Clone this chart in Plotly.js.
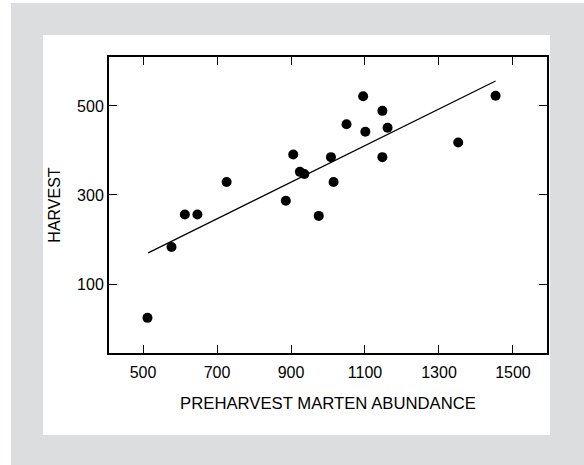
<!DOCTYPE html>
<html>
<head>
<meta charset="utf-8">
<script src="https://cdn.plot.ly/plotly-3.0.1.min.js"></script>
<style>html,body{margin:0;padding:0;background:#fff;}#chart{width:584px;height:465px;}</style>
</head>
<body>
<div id="chart"></div>
<script>
// Preharvest marten abundance (x) and harvest (y)
const abundance = [512, 577, 613, 647, 726, 886, 906, 924, 936, 975, 1008, 1015, 1050, 1095, 1101, 1147, 1147, 1161, 1352, 1453];
const harvest   = [24, 183, 256, 256, 329, 287, 391, 352, 347, 253, 385, 329, 459, 522, 442, 489, 385, 451, 418, 523];
// Fitted regression line end points
const fitX = [514, 1453];
const fitY = [170, 556];
const xTicks = [500, 700, 900, 1100, 1300, 1500];
const yTicks = [100, 300, 500];

// plot area in pixels
const W = 584, H = 465, L = 109, R = 547, T = 57, B = 353;
const px = v => (v - L) / (R - L);
const py = v => (B - v) / (B - T);

const fam = '"Liberation Sans", Arial, Helvetica, sans-serif';
const font = {family: fam, size: 16, color: '#000'};
const titleFont = {family: fam, size: 16.7, color: '#000'};

const traces = [
  {x: fitX, y: fitY, mode: 'lines', line: {color: '#000', width: 1.3}, hoverinfo: 'skip'},
  {x: abundance, y: harvest, mode: 'markers', marker: {color: '#000', size: 10}}
];

const axisCommon = {
  showline: true, linecolor: '#000', linewidth: 2, mirror: 'ticks',
  ticks: 'inside', ticklen: 8, tickwidth: 1, tickcolor: '#000',
  showgrid: false, zeroline: false, tickfont: font, tickmode: 'array'
};

const layout = {
  width: W, height: H,
  margin: {l: L, r: W - R, t: T, b: H - B, pad: 0},
  paper_bgcolor: '#fff', plot_bgcolor: 'rgba(0,0,0,0)',
  showlegend: false, font: font,
  xaxis: Object.assign({}, axisCommon, {
    range: [408, 1592], tickvals: xTicks, ticktext: xTicks.map(String),
    ticklabelstandoff: 4,
    title: {text: 'PREHARVEST MARTEN ABUNDANCE', font: titleFont, standoff: 17}
  }),
  yaxis: Object.assign({}, axisCommon, {
    range: [-55, 610], tickvals: yTicks, ticktext: yTicks.map(String),
    title: {text: 'HARVEST', font: font, standoff: 12}
  }),
  shapes: [
    {type: 'rect', xref: 'paper', yref: 'paper', layer: 'below', line: {width: 0},
     fillcolor: '#dcdddf', x0: px(11), x1: px(584), y0: py(3), y1: py(465)},
    {type: 'rect', xref: 'paper', yref: 'paper', layer: 'below', line: {width: 0},
     fillcolor: '#ffffff', x0: px(43), x1: px(550), y0: py(35), y1: py(435)}
  ]
};

Plotly.newPlot('chart', traces, layout, {displayModeBar: false, staticPlot: true});
</script>
</body>
</html>
